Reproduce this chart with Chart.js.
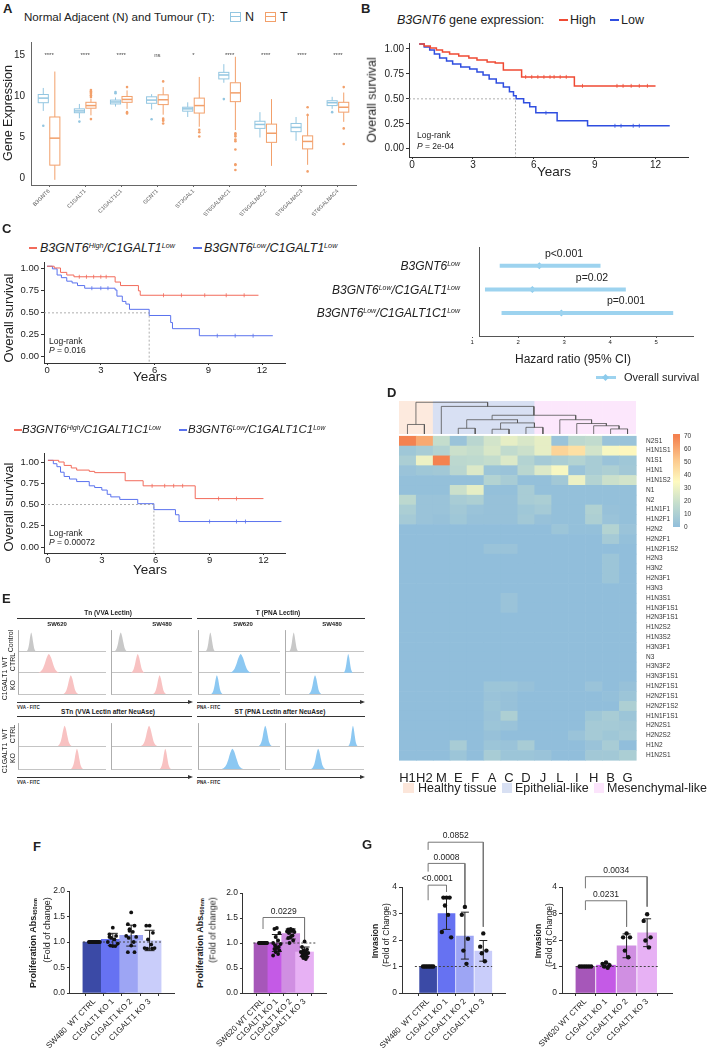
<!DOCTYPE html>
<html>
<head>
<meta charset="utf-8">
<script src="https://cdn.jsdelivr.net/npm/chart.js"></script>
<style>
body { margin: 0; background: #fff; }
#fig { position: relative; width: 707px; height: 1051px; overflow: hidden; background: #fff;
       font-family: 'Liberation Sans', Arial, sans-serif; color: #222; }
#fig canvas { position: absolute; }
.t { position: absolute; white-space: nowrap; line-height: 1; z-index: 2; }
.ln { position: absolute; z-index: 2; }
sup { font-size: 58%; vertical-align: 0.55em; line-height: 0; }
sub { font-size: 62%; vertical-align: -0.25em; line-height: 0; }
</style>
</head>
<body>
<div id="fig"></div>
<script>
// ---------------- data ----------------
// A: box plots  [min, q1, median, q3, max]
const genes = ['B3GNT6', 'C1GALT1', 'C1GALT1C1', 'GCNT1', 'ST3GAL1', 'ST6GALNAC1', 'ST6GALNAC2', 'ST6GALNAC3', 'ST6GALNAC4'];
const signif = ['****', '****', '****', 'ns', '*', '****', '****', '****', '****'];
const normalBox = [
  [8.2, 9.2, 9.76, 10.2, 11.0],
  [7.3, 7.98, 8.2, 8.45, 9.05],
  [8.73, 9.05, 9.29, 9.52, 9.84],
  [8.37, 9.13, 9.52, 9.92, 10.24],
  [7.46, 8.17, 8.45, 8.65, 9.25],
  [11.63, 12.1, 12.58, 12.9, 13.9],
  [4.96, 6.07, 6.55, 6.94, 8.05],
  [4.56, 5.67, 6.19, 6.67, 7.46],
  [8.45, 8.85, 9.2, 9.44, 9.92]
];
const tumourBox = [
  [-0.2, 1.59, 4.88, 7.46, 13.0],
  [7.66, 8.53, 8.85, 9.25, 9.7],
  [8.45, 9.25, 9.6, 9.96, 10.7],
  [7.74, 8.97, 9.56, 10.16, 11.1],
  [6.27, 7.94, 8.85, 9.76, 12.34],
  [5.87, 9.33, 10.4, 11.63, 14.8],
  [1.5, 4.37, 5.48, 6.59, 9.64],
  [1.63, 3.57, 4.48, 5.16, 7.86],
  [6.87, 8.05, 8.65, 9.25, 10.44]
];
const normalOut = [[6.4], [6.9], [10.5, 10.36], [7.18], [], [9.64], [], [], [8.05]];
const tumourOut = [[], [10.75, 10.6, 10.45, 10.3, 10.1, 9.9, 7.2], [11.1, 8.05, 7.9], [11.8, 7.26, 7.1, 7.0, 6.67],
  [5.08, 5.6, 5.9], [5.48, 5.3, 5.1, 4.7, 4.5, 3.5, 1.7, 1.6, 1.0], [], [8.65, 7.7, 0.83], [11.1, 6.07, 4.17]];

// B / C: Kaplan-Meier  [years, survival]
const kmBHigh = [[0.35, 1.05], [0.6, 1.03], [0.9, 1.01], [1.2, 0.99], [1.5, 0.97], [1.85, 0.95], [2.3, 0.93], [2.8, 0.91],
  [3.2, 0.89], [3.7, 0.87], [4.1, 0.86], [4.5, 0.79], [5.4, 0.72], [8.0, 0.63], [12.0, 0.63]];
const kmBLow = [[0.35, 1.05], [0.6, 1.02], [0.87, 0.99], [1.1, 0.95], [1.36, 0.91], [1.7, 0.88], [2.0, 0.85], [2.4, 0.82],
  [2.84, 0.8], [3.2, 0.77], [3.5, 0.74], [3.8, 0.7], [4.15, 0.66], [4.5, 0.62], [4.8, 0.57], [5.0, 0.53], [5.13, 0.5],
  [5.5, 0.46], [5.8, 0.42], [6.1, 0.36], [7.15, 0.28], [8.65, 0.23], [12.7, 0.23]];
const censBHigh = [[5.6, 0.72], [5.9, 0.72], [6.2, 0.72], [6.5, 0.72], [6.8, 0.72], [7.0, 0.72], [7.3, 0.72], [7.6, 0.72],
  [8.4, 0.63], [10.1, 0.63], [10.4, 0.63], [10.8, 0.63], [11.2, 0.63], [11.6, 0.63]];
const censBLow = [[6.6, 0.36], [10.0, 0.23], [10.3, 0.23], [10.9, 0.23], [11.2, 0.23]];
const medianB = 5.1;

const kmC1High = [[0, 1.03], [0.4, 1.01], [0.75, 0.96], [1.1, 0.93], [1.5, 0.91], [3.8, 0.85], [4.1, 0.81], [5.1, 0.75],
  [5.2, 0.7], [11.8, 0.7]];
const kmC1Low = [[0, 1.03], [0.3, 1.0], [0.56, 0.93], [0.8, 0.9], [1.1, 0.86], [1.4, 0.84], [1.7, 0.81], [2.1, 0.78],
  [3.8, 0.76], [3.9, 0.69], [4.2, 0.63], [4.4, 0.6], [4.6, 0.54], [5.7, 0.47], [6.9, 0.39], [7.0, 0.32], [8.5, 0.24], [12.6, 0.24]];
const censC1High = [[1.8, 0.91], [2.2, 0.91], [2.6, 0.91], [3.0, 0.91], [3.3, 0.91], [6.5, 0.7], [7.5, 0.7], [8.8, 0.7], [10.0, 0.7], [11.0, 0.7]];
const censC1Low = [[2.5, 0.78], [3.0, 0.78], [3.4, 0.78], [9.5, 0.24], [10.5, 0.24], [11.5, 0.24]];
const medianC1 = 5.7;

const kmC2High = [[0, 1.02], [0.6, 1.0], [0.9, 0.96], [1.3, 0.93], [1.6, 0.905], [2.3, 0.89], [2.6, 0.875], [4.3, 0.78],
  [5.3, 0.72], [8.2, 0.57], [12.0, 0.57]];
const kmC2Low = [[0, 1.02], [0.3, 0.98], [0.5, 0.945], [0.7, 0.88], [0.9, 0.83], [1.2, 0.8], [1.6, 0.77], [2.3, 0.72],
  [2.6, 0.7], [3.0, 0.67], [3.3, 0.62], [3.5, 0.59], [4.0, 0.56], [5.0, 0.51], [5.9, 0.44], [7.1, 0.38], [7.3, 0.3], [13.0, 0.3]];
const censC2High = [[5.8, 0.72], [6.5, 0.72], [7.0, 0.72], [7.5, 0.72], [9.5, 0.57], [10.5, 0.57]];
const censC2Low = [[9.0, 0.3], [10.5, 0.3], [11.0, 0.3]];
const medianC2 = 5.9;

// C: forest plot
const hrValue = [2.46, 2.31, 2.94];
const hrLow = [1.6, 1.28, 1.64];
const hrHigh = [3.79, 4.34, 5.37];
const hrP = ['p<0.001', 'p=0.02', 'p=0.001'];

// D: heatmap
const heatCols = ['H1', 'H2', 'M', 'E', 'F', 'A', 'C', 'D', 'J', 'L', 'I', 'H', 'B', 'G'];
const colGroup = [0, 0, 1, 1, 1, 1, 1, 1, 2, 2, 2, 2, 2, 2];
const heatRows = ['N2S1', 'H1N1S1', 'N1S1', 'H1N1', 'H1N1S2', 'N1', 'N2', 'H1N1F1', 'H1N2F1', 'H2N2', 'H2N2F1', 'H1N2F1S2',
  'H2N3', 'H3N2', 'H2N3F1', 'H3N3', 'H1N3S1', 'H1N3F1S1', 'H2N3F1S1', 'H1N2S2', 'H1N3S2', 'H3N3F1', 'N3', 'H3N3F2',
  'H3N3F1S1', 'H1N2F1S1', 'H2N2F1S1', 'H2N2F1S2', 'H1N1F1S1', 'H2N2S1', 'H2N2S2', 'H1N2', 'H1N2S1'];
const heatValues = [
  [70, 60, 18, 3, 14, 22, 28, 24, 28, 3, 15, 17, 3, 3],
  [5, 8, 12, 20, 18, 24, 17, 20, 28, 48, 44, 22, 33, 36],
  [9, 30, 72, 15, 16, 18, 25, 12, 7, 9, 12, 8, 3, 5],
  [3, 5, 6, 14, 25, 4, 3, 14, 25, 33, 3, 8, 10, 6],
  [1, 1, 1, 1, 1, 12, 8, 1, 1, 6, 30, 12, 20, 22],
  [1, 1, 1, 20, 28, 1, 1, 8, 1, 1, 1, 1, 1, 1],
  [15, 3, 3, 8, 10, 2, 2, 8, 9, 1, 1, 1, 1, 1],
  [9, 3, 3, 6, 3, 2, 2, 5, 7, 1, 1, 11, 2, 1],
  [7, 3, 2, 5, 2, 2, 2, 6, 2, 1, 1, 10, 3, 1],
  [0, 0, 0, 0, 0, 0, 0, 0, 0, 4, 1, 1, 12, 3],
  [0, 0, 0, 0, 0, 0, 0, 0, 0, 0, 0, 0, 7, 1],
  [0, 0, 0, 0, 0, 3, 3, 0, 0, 0, 0, 0, 0, 0],
  [0, 0, 0, 0, 0, 0, 0, 0, 0, 0, 0, 0, 4, 0],
  [0, 0, 0, 0, 0, 0, 0, 0, 0, 0, 0, 0, 4, 0],
  [0, 0, 0, 0, 0, 0, 0, 0, 0, 0, 0, 0, 4, 0],
  [0, 0, 0, 0, 0, 0, 0, 0, 0, 0, 0, 0, 0, 0],
  [0, 0, 0, 0, 0, 0, 3, 0, 0, 0, 0, 0, 0, 0],
  [0, 0, 0, 0, 0, 0, 3, 0, 0, 0, 0, 0, 0, 0],
  [0, 0, 0, 0, 0, 0, 0, 0, 0, 0, 0, 0, 0, 0],
  [0, 0, 0, 0, 0, 0, 0, 0, 0, 0, 0, 0, 0, 0],
  [0, 0, 0, 0, 0, 0, 0, 0, 0, 0, 0, 0, 0, 0],
  [0, 0, 0, 0, 0, 0, 0, 0, 0, 0, 0, 0, 0, 0],
  [0, 0, 0, 0, 0, 0, 0, 0, 0, 0, 0, 0, 0, 0],
  [0, 0, 0, 0, 0, 0, 0, 0, 0, 0, 0, 0, 0, 0],
  [0, 0, 0, 0, 0, 0, 0, 0, 0, 0, 0, 0, 0, 0],
  [0, 0, 0, 0, 0, 4, 4, 2, 0, 0, 0, 3, 0, 2],
  [0, 0, 0, 0, 0, 3, 2, 0, 0, 0, 0, 0, 1, 4],
  [0, 0, 0, 0, 0, 4, 2, 0, 0, 0, 0, 0, 0, 10],
  [0, 0, 0, 0, 0, 3, 10, 0, 0, 0, 0, 5, 8, 4],
  [0, 0, 0, 0, 0, 4, 3, 0, 0, 0, 0, 7, 7, 6],
  [0, 0, 0, 0, 0, 2, 0, 0, 0, 0, 3, 7, 5, 7],
  [0, 0, 0, 8, 0, 4, 3, 8, 0, 0, 0, 3, 8, 0],
  [0, 0, 0, 4, 0, 8, 4, 4, 3, 0, 0, 6, 6, 9]
];
// dendrogram merges: [child, child, height]; leaves 0-13, merged nodes numbered from 14
const dendroMerges = [
  [0, 1, 0.30], [3, 4, 0.18], [5, 6, 0.15], [7, 8, 0.21], [16, 17, 0.35], [15, 18, 0.45],
  [12, 13, 0.16], [11, 20, 0.26], [10, 21, 0.33], [9, 22, 0.45], [19, 23, 0.59], [2, 24, 0.87], [14, 25, 1.0]
];

// E: lectin flow cytometry, peak position on the FITC axis (0-1) and half width
const peakShape = [0, 0.05, 0.18, 0.45, 0.8, 1, 0.82, 0.48, 0.18, 0.05, 0];
const tnSW620 = [0.15, 0.35, 0.60], tnSW620W = [0.055, 0.12, 0.085];
const tnSW480 = [0.12, 0.33, 0.60], tnSW480W = [0.08, 0.085, 0.08];
const tSW620 = [0.15, 0.52, 0.23], tSW620W = [0.06, 0.13, 0.07];
const tSW480 = [0.11, 0.80, 0.38], tSW480W = [0.06, 0.06, 0.08];
const stnSW620 = [0.53, 0.67], stnSW620W = [0.08, 0.07];
const stnSW480 = [0.47, 0.67], stnSW480W = [0.1, 0.07];
const stSW620 = [0.82, 0.42], stSW620W = [0.08, 0.13];
const stSW480 = [0.86, 0.42], stSW480W = [0.06, 0.09];

// F: proliferation
const cats480 = ['SW480  WT CTRL', 'C1GALT1 KO 1', 'C1GALT1 KO 2', 'C1GALT1 KO 3'];
const cats620 = ['SW620 WT CTRL', 'C1GALT1 KO 1', 'C1GALT1 KO 2', 'C1GALT1 KO 3'];
const prolif480Mean = [1.0, 1.05, 1.13, 1.03];
const prolif480Err = [[1, 1], [0.93, 1.17], [0.92, 1.33], [0.83, 1.23]];
const prolif480Pts = [
  [1, 1, 1, 1, 1, 1, 1, 1, 1, 1, 1, 1],
  [1.28, 1.15, 1.12, 1.08, 1.05, 1.0, 0.97, 0.93, 0.92, 0.92, 1.1],
  [1.58, 1.35, 1.32, 1.25, 1.2, 1.12, 1.1, 1.08, 1.0, 0.93, 0.8, 0.8, 1.22],
  [1.32, 1.32, 1.18, 1.05, 0.95, 0.88, 0.88, 0.87, 0.87]
];
const prolif620Mean = [1.0, 1.0, 1.19, 0.82];
const prolif620Err = [[1, 1], [0.83, 1.17], [1.08, 1.28], [0.73, 0.92]];
const prolif620Pts = [
  [1, 1, 1, 1, 1, 1, 1, 1, 1, 1, 1, 1],
  [1.3, 1.28, 1.2, 1.12, 1.05, 1.0, 0.98, 0.95, 0.92, 0.9, 0.88, 0.85, 0.82, 0.78, 0.75],
  [1.28, 1.27, 1.26, 1.25, 1.24, 1.23, 1.22, 1.2, 1.15, 1.12, 1.1, 1.05, 1.0],
  [1.03, 0.92, 0.87, 0.85, 0.83, 0.82, 0.8, 0.79, 0.78, 0.76, 0.74, 0.72, 0.7, 0.68]
];
const prolif620P = ['0.0229'];

// G: invasion
const inv480Mean = [1.0, 3.0, 2.15, 1.58];
const inv480Err = [[1, 1], [2.4, 3.6], [1.28, 3.05], [1.2, 1.98]];
const inv480Pts = [
  [1, 1, 1, 1, 1, 1, 1],
  [3.6, 3.6, 3.6, 3.3, 2.95, 2.3, 2.1],
  [3.25, 2.95, 2.05, 1.6, 1.1],
  [2.25, 1.75, 1.6, 1.5, 1.2]
];
const inv480P = ['<0.0001', '0.0008', '0.0852'];
const inv620Mean = [1.0, 1.05, 1.78, 2.27];
const inv620Err = [[1, 1], [0.97, 1.12], [1.33, 2.23], [1.75, 2.8]];
const inv620Pts = [
  [1, 1, 1, 1, 1, 1],
  [1.15, 1.1, 1.05, 1.0, 0.95],
  [2.25, 2.1, 2.1, 1.6, 1.35],
  [2.97, 2.72, 2.1, 1.98, 1.72]
];
const inv620P = ['0.0231', '0.0034'];

// ---------------- setup ----------------
Chart.defaults.font.family = "'Liberation Sans', Arial, sans-serif";
Chart.defaults.color = '#222';
Chart.defaults.animation = false;
Chart.defaults.responsive = false;
Chart.defaults.events = [];
Chart.defaults.plugins.legend.display = false;
Chart.defaults.plugins.tooltip.enabled = false;

const fig = document.getElementById('fig');
function cv(x, y, w, h) {
  const c = document.createElement('canvas');
  c.width = w; c.height = h;
  c.style.left = x + 'px'; c.style.top = y + 'px';
  c.style.width = w + 'px'; c.style.height = h + 'px';
  fig.appendChild(c);
  return c;
}
function txt(html, x, y, o = {}) {
  const d = document.createElement('div');
  d.className = 't';
  d.innerHTML = html;
  const ax = o.a === 'c' ? '-50%' : o.a === 'r' ? '-100%' : '0';
  d.style.left = x + 'px';
  d.style.top = y + 'px';
  d.style.fontSize = (o.s || 10) + 'px';
  if (o.b) d.style.fontWeight = 'bold';
  if (o.i) d.style.fontStyle = 'italic';
  if (o.c) d.style.color = o.c;
  if (o.lh) { d.style.lineHeight = o.lh; d.style.textAlign = 'center'; }
  d.style.transform = `translate(${ax},-50%)` + (o.r ? ` rotate(${o.r}deg)` : '');
  fig.appendChild(d);
  return d;
}
function rect(x, y, w, h, bg, extra) {
  const d = document.createElement('div');
  d.className = 'ln';
  d.style.left = x + 'px'; d.style.top = y + 'px';
  d.style.width = w + 'px'; d.style.height = h + 'px';
  d.style.background = bg;
  if (extra) d.style.cssText += extra;
  fig.appendChild(d);
  return d;
}
function merge(a, b) {
  for (const k in b) {
    const v = b[k];
    if (v && typeof v === 'object' && !Array.isArray(v)) a[k] = merge(a[k] && typeof a[k] === 'object' ? a[k] : {}, v);
    else a[k] = v;
  }
  return a;
}
function axis(o) {
  return merge({
    border: { color: '#333', width: 1 },
    grid: { drawOnChartArea: false, tickLength: 3, color: '#333', lineWidth: 1 },
    ticks: { color: '#222', font: { size: 9 }, padding: 1, autoSkip: false, maxRotation: 0 }
  }, o);
}
const setTicks = vals => s => { s.ticks = vals.map(v => ({ value: v })); };
const fixW = w => s => { s.width = w; };
const fixH = h => s => { s.height = h; };
const P = a => a.map(p => ({ x: p[0], y: p[1] }));

// ---------------- panel letters ----------------
txt('A', 3, 8, { b: 1, s: 13 });
txt('B', 361, 8, { b: 1, s: 13 });
txt('C', 2, 228, { b: 1, s: 13 });
txt('D', 387, 392, { b: 1, s: 13 });
txt('E', 2, 598, { b: 1, s: 13 });
txt('F', 33, 846, { b: 1, s: 13 });
txt('G', 362, 844, { b: 1, s: 13 });

// ---------------- A ----------------
const colN = '#93c6e1', colT = '#f2a06b';
(function () {
  const c = cv(0, 30, 360, 195);
  const outN = [], outT = [];
  normalOut.forEach((a, i) => a.forEach(v => outN.push({ x: i - 0.16, y: v })));
  tumourOut.forEach((a, i) => a.forEach(v => outT.push({ x: i + 0.16, y: v })));
  const boxes = {
    id: 'boxes',
    beforeDatasetsDraw(ch) {
      const { ctx, scales: { x, y } } = ch;
      const bw = (x.getPixelForValue(1) - x.getPixelForValue(0)) * 0.28;
      ctx.save();
      [[normalBox, -0.16, colN], [tumourBox, 0.16, colT]].forEach(([set, off, col]) => {
        set.forEach((b, i) => {
          const cx = x.getPixelForValue(i + off);
          const [mn, q1, md, q3, mx] = b.map(v => y.getPixelForValue(v));
          ctx.strokeStyle = col;
          ctx.lineWidth = 1;
          ctx.beginPath();
          ctx.moveTo(cx, mx); ctx.lineTo(cx, q3);
          ctx.moveTo(cx, q1); ctx.lineTo(cx, mn);
          ctx.stroke();
          ctx.fillStyle = '#fff';
          ctx.fillRect(cx - bw / 2, q3, bw, q1 - q3);
          ctx.strokeRect(cx - bw / 2, q3, bw, q1 - q3);
          ctx.lineWidth = 1.5;
          ctx.beginPath(); ctx.moveTo(cx - bw / 2, md); ctx.lineTo(cx + bw / 2, md); ctx.stroke();
        });
      });
      ctx.fillStyle = '#444';
      ctx.font = "6px 'Liberation Sans', Arial";
      ctx.textAlign = 'center';
      ctx.textBaseline = 'middle';
      signif.forEach((s, i) => ctx.fillText(s, x.getPixelForValue(i), y.getPixelForValue(15)));
      ctx.restore();
    }
  };
  new Chart(c, {
    type: 'scatter',
    data: { datasets: [
      { data: outN, pointRadius: 1.3, backgroundColor: colN, borderWidth: 0 },
      { data: outT, pointRadius: 1.3, backgroundColor: colT, borderWidth: 0 }
    ] },
    options: {
      layout: { padding: { top: 8, right: 3, left: 0, bottom: 0 } },
      scales: {
        x: axis({ type: 'linear', min: -0.5, max: 8.5, afterBuildTicks: setTicks(genes.map((g, i) => i)), afterFit: fixH(40),
          ticks: { callback: v => genes[v], font: { size: 5.5 }, color: '#555', minRotation: 45, maxRotation: 45, padding: 1 },
          grid: { tickLength: 2, color: '#666' }, border: { color: '#666' } }),
        y: axis({ type: 'linear', min: -0.83, max: 16.6, afterBuildTicks: setTicks([0, 5, 10, 15]), afterFit: fixW(31),
          ticks: { font: { size: 10 }, padding: 6 }, grid: { tickLength: 0 }, border: { color: '#666' } })
      }
    },
    plugins: [boxes]
  });
  txt('Normal Adjacent (N) and Tumour (T):', 24, 17, { s: 11.6 });
  rect(230, 12, 9, 8, '#fff', `border:1px solid ${colN}`);
  rect(230, 16, 11, 1, colN);
  txt('N', 245, 17, { s: 12.5 });
  rect(265, 12, 9, 8, '#fff', `border:1px solid ${colT}`);
  rect(265, 16, 11, 1, colT);
  txt('T', 280, 17, { s: 12.5 });
  txt('Gene Expression', 8, 113, { a: 'c', r: -90, s: 12.5 });
})();

// ---------------- KM curves ----------------
function kmChart(o) {
  const c = cv(o.x, o.y, o.w, o.h);
  const ds = [{ type: 'line', data: P([[o.xr[0], 0.5], [o.med, 0.5], [o.med, o.yr[0]]]), borderColor: '#999',
    borderWidth: 0.8, borderDash: [2, 2], pointRadius: 0, fill: false }];
  o.curves.forEach(cu => {
    ds.push({ type: 'line', data: P(cu.d), borderColor: cu.col, borderWidth: o.lw, stepped: 'before', pointRadius: 0, fill: false });
    ds.push({ type: 'scatter', data: P(cu.cens), pointStyle: 'line', pointRotation: 90, pointRadius: 2,
      borderColor: cu.col, pointBorderColor: cu.col, pointBorderWidth: 0.8 });
  });
  new Chart(c, {
    type: 'scatter',
    data: { datasets: ds },
    options: {
      layout: { padding: { top: o.pt, right: o.pr, left: 0, bottom: 0 } },
      scales: {
        x: axis({ type: 'linear', min: o.xr[0], max: o.xr[1], afterBuildTicks: setTicks([0, 3, 6, 9, 12]), afterFit: fixH(o.xh),
          ticks: { font: { size: o.fs }, padding: 0 }, grid: { tickLength: 2 } }),
        y: axis({ type: 'linear', min: o.yr[0], max: o.yr[1], afterBuildTicks: setTicks([0, 0.25, 0.5, 0.75, 1]), afterFit: fixW(o.yw),
          ticks: { font: { size: o.fs }, padding: 2, callback: v => v.toFixed(2) }, grid: { tickLength: 3 } })
      }
    }
  });
}

// B
kmChart({ x: 360, y: 30, w: 347, h: 140, pt: 13, pr: 19, xh: 13, yw: 49, fs: 10, lw: 1.5,
  xr: [-0.15, 13.6], yr: [-0.083, 1.06], med: medianB,
  curves: [{ d: kmBHigh, cens: censBHigh, col: '#ef4a33' }, { d: kmBLow, cens: censBLow, col: '#2f4ee0' }] });
txt('<i>B3GNT6</i> gene expression:', 397, 20, { s: 12.5 });
rect(559, 19, 9, 2, '#ef4a33');
txt('High', 570, 20, { s: 12.5 });
rect(610, 19, 9, 2, '#2f4ee0');
txt('Low', 621, 20, { s: 12.5 });
txt('Overall survival', 372, 100, { a: 'c', r: -90, s: 12.5 });
txt('Years', 554, 172, { a: 'c', s: 13.5 });
txt('Log-rank', 417, 135, { s: 8.5 });
txt('<i>P</i> = 2e-04', 417, 146, { s: 8.5 });

// C top
kmChart({ x: 0, y: 255, w: 300, h: 124, pt: 7, pr: 15, xh: 16, yw: 44, fs: 9.5, lw: 1,
  xr: [-0.17, 13.28], yr: [-0.07, 1.07], med: medianC1,
  curves: [{ d: kmC1High, cens: censC1High, col: '#f26b5b' }, { d: kmC1Low, cens: censC1Low, col: '#5a72ee' }] });
rect(29, 247, 8, 2, '#f26b5b');
txt('B3GNT6<sup>High</sup>/C1GALT1<sup>Low</sup>', 40, 248, { i: 1, s: 12.5 });
rect(193, 247, 9, 2, '#5a72ee');
txt('B3GNT6<sup>Low</sup>/C1GALT1<sup>Low</sup>', 204, 248, { i: 1, s: 12.5 });
txt('Overall survival', 8, 318, { a: 'c', r: -90, s: 13 });
txt('Years', 150, 377, { a: 'c', s: 13.5 });
txt('Log-rank', 49, 341, { s: 8.5 });
txt('<i>P</i> = 0.016', 49, 350, { s: 8.5 });

// C bottom
kmChart({ x: 0, y: 445, w: 300, h: 119, pt: 8, pr: 15, xh: 11, yw: 44, fs: 9.5, lw: 1,
  xr: [-0.22, 13.2], yr: [-0.07, 1.106], med: medianC2,
  curves: [{ d: kmC2High, cens: censC2High, col: '#f26b5b' }, { d: kmC2Low, cens: censC2Low, col: '#5a72ee' }] });
rect(14, 429, 8, 2, '#f26b5b');
txt('B3GNT6<sup>High</sup>/C1GALT1C1<sup>Low</sup>', 22, 430, { i: 1, s: 11.5 });
rect(179, 429, 8, 2, '#5a72ee');
txt('B3GNT6<sup>Low</sup>/C1GALT1C1<sup>Low</sup>', 188, 430, { i: 1, s: 11.5 });
txt('Overall survival', 8, 507, { a: 'c', r: -90, s: 13 });
txt('Years', 150, 570, { a: 'c', s: 13.5 });
txt('Log-rank', 49, 533, { s: 8.5 });
txt('<i>P</i> = 0.00072', 49, 542, { s: 8.5 });

// ---------------- C forest ----------------
(function () {
  const c = cv(440, 240, 267, 112);
  const blue = '#9dd3ef';
  const ds = hrValue.map((v, i) => ({ type: 'line', data: [{ x: hrLow[i], y: i }, { x: hrHigh[i], y: i }],
    borderColor: blue, borderWidth: 4, pointRadius: 0, fill: false }));
  ds.push({ type: 'scatter', data: hrValue.map((v, i) => ({ x: v, y: i })), pointStyle: 'rectRot', pointRadius: 3.5,
    backgroundColor: '#8ccbec', borderWidth: 0 });
  new Chart(c, {
    type: 'scatter',
    data: { datasets: ds },
    options: {
      layout: { padding: { top: 7, right: 14, left: 0, bottom: 0 } },
      scales: {
        x: axis({ type: 'linear', min: 1.15, max: 5.8, afterBuildTicks: setTicks([1, 2, 3, 4, 5]), afterFit: fixH(16),
          ticks: { font: { size: 6 }, padding: 1 }, grid: { tickLength: 2, color: '#555' }, border: { color: '#555' } }),
        y: axis({ type: 'linear', reverse: true, min: -0.8, max: 2.98, afterBuildTicks: setTicks([]), afterFit: fixW(39),
          ticks: { display: false }, grid: { display: false }, border: { color: '#555' } })
      }
    }
  });
  const labels = ['B3GNT6<sup>Low</sup>', 'B3GNT6<sup>Low</sup>/C1GALT1<sup>Low</sup>', 'B3GNT6<sup>Low</sup>/C1GALT1C1<sup>Low</sup>'];
  const ys = [266, 290, 313];
  labels.forEach((l, i) => txt(l, 460, ys[i], { a: 'r', i: 1, s: 12 }));
  const px = [564, 592, 626], py = [253, 277, 300];
  hrP.forEach((p, i) => txt(p, px[i], py[i], { a: 'c', s: 10.5 }));
  txt('Hazard ratio (95% CI)', 573, 359, { a: 'c', s: 12 });
  rect(596, 376, 20, 3, blue);
  rect(603, 375, 5, 5, '#8ccbec', 'transform:rotate(45deg)');
  txt('Overall survival', 624, 377, { s: 11 });
})();

// ---------------- D heatmap ----------------
const heatStops = [[0, [145, 190, 219]], [18, [196, 221, 205]], [35, [254, 250, 192]], [52, [252, 200, 140]], [70, [244, 130, 80]]];
function heatColor(v) {
  for (let k = 1; k < heatStops.length; k++) {
    if (v <= heatStops[k][0] || k === heatStops.length - 1) {
      const [a, ca] = heatStops[k - 1], [b, cb] = heatStops[k];
      const f = Math.max(0, Math.min(1, (v - a) / (b - a)));
      return `rgb(${ca.map((q, j) => Math.round(q + (cb[j] - q) * f)).join(',')})`;
    }
  }
}
(function () {
  const c = cv(390, 430, 317, 355);
  const heat = {
    id: 'heat',
    beforeDatasetsDraw(ch) {
      const { ctx, scales: { x, y } } = ch;
      const cw = x.getPixelForValue(1) - x.getPixelForValue(0);
      const rh = y.getPixelForValue(1) - y.getPixelForValue(0);
      heatValues.forEach((row, r) => row.forEach((v, k) => {
        ctx.fillStyle = heatColor(v);
        ctx.fillRect(x.getPixelForValue(k) - cw / 2, y.getPixelForValue(r) - rh / 2, cw + 0.6, rh + 0.6);
      }));
    }
  };
  new Chart(c, {
    type: 'scatter',
    data: { datasets: [] },
    options: {
      layout: { padding: { top: 4, left: 9, right: 0, bottom: 0 } },
      scales: {
        x: { type: 'linear', min: -0.5, max: 13.5, afterBuildTicks: setTicks(heatCols.map((h, i) => i)), afterFit: fixH(25),
          ticks: { callback: v => heatCols[v], font: { size: 13 }, color: '#222', padding: 3, autoSkip: false, maxRotation: 0 },
          grid: { display: false }, border: { display: false } },
        y: { type: 'linear', position: 'right', reverse: true, min: -0.5, max: 32.5, afterBuildTicks: setTicks(heatRows.map((h, i) => i)),
          afterFit: fixW(71), ticks: { callback: v => heatRows[v], font: { size: 6.5 }, color: '#333', padding: 2, autoSkip: false },
          grid: { display: false }, border: { display: false } }
      }
    },
    plugins: [heat]
  });

  // dendrogram
  const d = cv(399, 401, 237, 33);
  const nx = heatCols.map((h, i) => i), ny = heatCols.map(() => 0);
  const groupBg = ['#fdeade', '#d8e0f3', '#fce7fc'];
  const ds = dendroMerges.map(([a, b, h]) => {
    nx.push((nx[a] + nx[b]) / 2); ny.push(h);
    return { type: 'line', data: [{ x: nx[a], y: ny[a] }, { x: nx[a], y: h }, { x: nx[b], y: h }, { x: nx[b], y: ny[b] }],
      borderColor: '#555', borderWidth: 0.8, pointRadius: 0, fill: false, clip: false };
  });
  const bg = {
    id: 'bg',
    beforeDatasetsDraw(ch) {
      const { ctx, scales: { x } } = ch;
      colGroup.forEach((g, i) => {
        const l = x.getPixelForValue(i - 0.5), r = x.getPixelForValue(i + 0.5);
        ctx.fillStyle = groupBg[g];
        ctx.fillRect(l, 0, r - l + 0.5, ch.height);
      });
    }
  };
  new Chart(d, {
    type: 'scatter',
    data: { datasets: ds },
    options: {
      layout: { padding: 0 },
      scales: {
        x: { type: 'linear', min: -0.5, max: 13.5, display: false },
        y: { type: 'linear', min: 0, max: 1.04, display: false }
      }
    },
    plugins: [bg]
  });

  // colour bar
  const stops = heatStops.map(([v, col]) => `rgb(${col.join(',')}) ${(v / 72 * 100).toFixed(1)}%`).join(',');
  rect(673, 434, 7, 93, `linear-gradient(to top, ${stops})`);
  [70, 60, 50, 40, 30, 20, 10, 0].forEach((v, i) => txt(String(v), 684, 436 + i * 13, { s: 6.5, c: '#333' }));
  // group legend
  rect(403, 783, 11, 10, '#fce6da');
  txt('Healthy tissue', 418, 788, { s: 12.5 });
  rect(502, 783, 10, 10, '#d8e0f3');
  txt('Epithelial-like', 515, 788, { s: 12.5 });
  rect(594, 783, 10, 10, '#fce4fc');
  txt('Mesenchymal-like', 607, 788, { s: 12.5 });
})();

// ---------------- E flow cytometry ----------------
const gray = '#c8c8c8', pink = '#f8c2c2', fblue = '#8cc8f2';
function flowBox(x, y, w, h, pos, hw, cols) {
  const c = cv(x, y, w, h);
  const n = pos.length;
  const ds = pos.map((p, r) => {
    const row = n - 1 - r;
    return { type: 'line', data: peakShape.map((v, k) => ({ x: p + hw[r] * (k / 5 - 1), y: row + 0.88 * v })),
      fill: { value: row }, backgroundColor: cols[r], borderWidth: 0, pointRadius: 0, tension: 0.3 };
  });
  new Chart(c, {
    type: 'scatter',
    data: { datasets: ds },
    options: {
      layout: { padding: { left: 1, bottom: 1, top: 0, right: 0 } },
      scales: {
        x: { type: 'linear', min: 0, max: 1, display: false },
        y: { type: 'linear', min: 0, max: n, afterBuildTicks: setTicks(pos.map((p, i) => i)), afterFit: fixW(0),
          ticks: { display: false }, grid: { color: '#aaa', lineWidth: 0.7, drawTicks: false }, border: { color: '#999', width: 0.8 } }
      }
    }
  });
}
flowBox(17, 630, 89, 65, tnSW620, tnSW620W, [gray, pink, pink]);
flowBox(110, 630, 82, 65, tnSW480, tnSW480W, [gray, pink, pink]);
flowBox(197, 630, 83, 65, tSW620, tSW620W, [gray, fblue, fblue]);
flowBox(284, 630, 80, 65, tSW480, tSW480W, [gray, fblue, fblue]);
flowBox(17, 723, 89, 47, stnSW620, stnSW620W, [pink, pink]);
flowBox(110, 723, 82, 47, stnSW480, stnSW480W, [pink, pink]);
flowBox(197, 723, 83, 47, stSW620, stSW620W, [fblue, fblue]);
flowBox(284, 723, 80, 47, stSW480, stSW480W, [fblue, fblue]);

function arrow(x1, x2, y) {
  rect(x1, y, x2 - x1 - 3, 1, '#333');
  rect(x2 - 4, y - 2, 0, 0, 'transparent', 'border-left:5px solid #333;border-top:2.5px solid transparent;border-bottom:2.5px solid transparent;');
}
txt('Tn (VVA Lectin)', 108, 613, { a: 'c', b: 1, s: 6.5 });
rect(17, 618, 175, 1, '#333');
txt('T (PNA Lectin)', 278, 613, { a: 'c', b: 1, s: 6.5 });
rect(197, 618, 168, 1, '#333');
txt('SW620', 57, 624, { a: 'c', b: 1, s: 6 });
txt('SW480', 162, 624, { a: 'c', b: 1, s: 6 });
txt('SW620', 243, 624, { a: 'c', b: 1, s: 6 });
txt('SW480', 332, 624, { a: 'c', b: 1, s: 6 });
arrow(17, 192, 702);
arrow(197, 364, 702);
txt('VVA - FITC', 17, 708, { b: 1, s: 4.5 });
txt('PNA - FITC', 197, 708, { b: 1, s: 4.5 });
txt('STn (VVA Lectin after NeuAse)', 108, 712, { a: 'c', b: 1, s: 6.5 });
rect(17, 716, 175, 1, '#333');
txt('ST (PNA Lectin after NeuAse)', 280, 712, { a: 'c', b: 1, s: 6.5 });
rect(197, 716, 168, 1, '#333');
arrow(17, 192, 777);
arrow(197, 364, 777);
txt('VVA - FITC', 17, 783, { b: 1, s: 4.5 });
txt('PNA - FITC', 197, 783, { b: 1, s: 4.5 });
txt('Control', 10, 641, { a: 'c', r: -90, s: 7 });
txt('WT<br>CTRL', 9, 662, { a: 'c', r: -90, s: 7, lh: 1.15 });
txt('C1GALT1<br>KO', 9, 685, { a: 'c', r: -90, s: 7, lh: 1.15 });
txt('WT<br>CTRL', 9, 734, { a: 'c', r: -90, s: 7, lh: 1.15 });
txt('C1GALT1<br>KO', 9, 758, { a: 'c', r: -90, s: 7, lh: 1.15 });

// ---------------- F / G dot-bar charts ----------------
const jit = [0, -0.6, 0.6, -0.3, 0.3, -0.9, 0.9, -0.45, 0.45];
const bracketText = {
  id: 'bracketText',
  afterDatasetsDraw(ch, args, opts) {
    const { ctx, scales: { x, y } } = ch;
    ctx.save();
    ctx.font = "8.5px 'Liberation Sans', Arial";
    ctx.fillStyle = '#222';
    ctx.textAlign = 'center';
    ctx.textBaseline = 'bottom';
    (opts.list || []).forEach(b => ctx.fillText(b.label, (x.getPixelForValue(b.from) + x.getPixelForValue(b.to)) / 2, y.getPixelForValue(b.top) - 2));
    ctx.restore();
  }
};
function dotBar(o) {
  const c = cv(o.x, o.y, o.w, o.h);
  const ds = [{ type: 'bar', data: o.mean.map((v, i) => ({ x: i, y: v })), backgroundColor: o.cols, barThickness: o.bw, order: 5 }];
  o.err.forEach((e, i) => {
    if (e[0] !== e[1]) ds.push({ type: 'line', data: [{ x: i, y: e[0] }, { x: i, y: e[1] }], borderColor: '#222', borderWidth: 1,
      pointStyle: 'line', pointRadius: o.cap, pointBorderColor: '#222', pointBorderWidth: 1, fill: false, order: 1 });
  });
  const dots = [];
  o.pts.forEach((arr, i) => {
    const same = arr.every(v => v === arr[0]);
    arr.forEach((v, k) => dots.push({ x: i + (same ? o.spread * (-1 + 2 * k / (arr.length - 1)) : jit[k % jit.length] * o.spread), y: v }));
  });
  ds.push({ type: 'scatter', data: dots, pointRadius: o.dotR, backgroundColor: '#111', borderWidth: 0, order: 0 });
  ds.push({ type: 'line', data: [{ x: o.xr[0], y: 1 }, { x: o.xr[1], y: 1 }], borderColor: '#444', borderWidth: 1,
    borderDash: [2, 2], pointRadius: 0, fill: false, order: 2 });
  const labels = [];
  o.br.forEach((b, k) => {
    ds.push({ type: 'line', data: [{ x: b.pair[0], y: b.l }, { x: b.pair[0], y: b.top }, { x: b.pair[1], y: b.top }, { x: b.pair[1], y: b.r }],
      borderColor: '#777', borderWidth: 1, pointRadius: 0, fill: false, clip: false, order: 3 });
    labels.push({ from: b.pair[0], to: b.pair[1], top: b.top, label: o.p[k] });
  });
  new Chart(c, {
    type: 'bar',
    data: { datasets: ds },
    options: {
      layout: { padding: { top: o.pt, right: o.pr, left: 0, bottom: 0 } },
      plugins: { bracketText: { list: labels } },
      scales: {
        x: axis({ type: 'linear', min: o.xr[0], max: o.xr[1], afterBuildTicks: setTicks([0, 1, 2, 3]), afterFit: fixH(o.xh),
          ticks: { callback: v => o.cats[v], font: { size: 8 }, minRotation: 45, maxRotation: 45, padding: 1 }, grid: { tickLength: 3 } }),
        y: axis({ type: 'linear', min: 0, max: o.ymax, afterBuildTicks: setTicks(o.yt), afterFit: fixW(o.yw),
          ticks: { font: { size: 8.5 }, padding: 2, callback: v => o.fmt(v) }, grid: { tickLength: 3 } })
      }
    },
    plugins: [bracketText]
  });
}
const blues = ['#3b4aa6', '#6672f2', '#9da5f4', '#c9cdfa'];
const purples = ['#a657b9', '#c45ae6', '#d08fe2', '#e7b1f4'];

// F
dotBar({ x: 40, y: 880, w: 140, h: 171, pt: 11, pr: 3, xh: 58, yw: 28, cats: cats480, mean: prolif480Mean, err: prolif480Err,
  pts: prolif480Pts, cols: blues, bw: 23, cap: 5, dotR: 1.9, spread: 0.3, xr: [-0.62, 3.62], ymax: 2, yt: [0, 0.5, 1, 1.5, 2],
  fmt: v => v.toFixed(1), br: [], p: [] });
dotBar({ x: 210, y: 880, w: 122, h: 171, pt: 13, pr: 4, xh: 58, yw: 28, cats: cats620, mean: prolif620Mean, err: prolif620Err,
  pts: prolif620Pts, cols: purples, bw: 18, cap: 5, dotR: 1.9, spread: 0.3, xr: [-0.7, 3.8], ymax: 2, yt: [0, 0.5, 1, 1.5, 2],
  fmt: v => v.toFixed(1), br: [{ pair: [0, 3], top: 1.51, l: 1.28, r: 1.03 }], p: prolif620P });
txt('<b>Proliferation Abs<sub>450nm</sub></b>', 33, 943, { a: 'c', r: -90, s: 9 });
txt('(Fold of change)', 47, 930, { a: 'c', r: -90, s: 9 });
txt('<b>Proliferation Abs<sub>450nm</sub></b>', 200, 943, { a: 'c', r: -90, s: 9 });
txt('(Fold of change)', 213, 930, { a: 'c', r: -90, s: 9 });

// G
dotBar({ x: 372, y: 826, w: 138, h: 225, pt: 61, pr: 3, xh: 58, yw: 30, cats: cats480, mean: inv480Mean, err: inv480Err,
  pts: inv480Pts, cols: blues, bw: 17, cap: 4, dotR: 2.2, spread: 0.28, xr: [-0.72, 3.48], ymax: 4, yt: [0, 1, 2, 3, 4],
  fmt: v => String(v),
  br: [{ pair: [0, 1], top: 4.07, l: 3.5, r: 3.82 }, { pair: [0, 2], top: 4.89, l: 4.58, r: 3.32 }, { pair: [0, 3], top: 5.69, l: 5.4, r: 2.5 }],
  p: inv480P });
dotBar({ x: 532, y: 826, w: 145, h: 225, pt: 61, pr: 4, xh: 58, yw: 30, cats: cats620, mean: inv620Mean, err: inv620Err,
  pts: inv620Pts, cols: purples, bw: 19, cap: 4, dotR: 2.2, spread: 0.28, xr: [-0.47, 3.54], ymax: 4, yt: [0, 1, 2, 3, 4],
  fmt: v => String(v),
  br: [{ pair: [0, 2], top: 3.48, l: 3.13, r: 2.5 }, { pair: [0, 3], top: 4.39, l: 3.95, r: 3.26 }],
  p: inv620P });
txt('<b>Invasion</b>', 375, 941, { a: 'c', r: -90, s: 8.5 });
txt('(Fold of Change)', 386, 935, { a: 'c', r: -90, s: 8.5 });
txt('<b>Invasion</b>', 538, 941, { a: 'c', r: -90, s: 8.5 });
txt('(Fold of Change)', 549, 935, { a: 'c', r: -90, s: 8.5 });
</script>
</body>
</html>
